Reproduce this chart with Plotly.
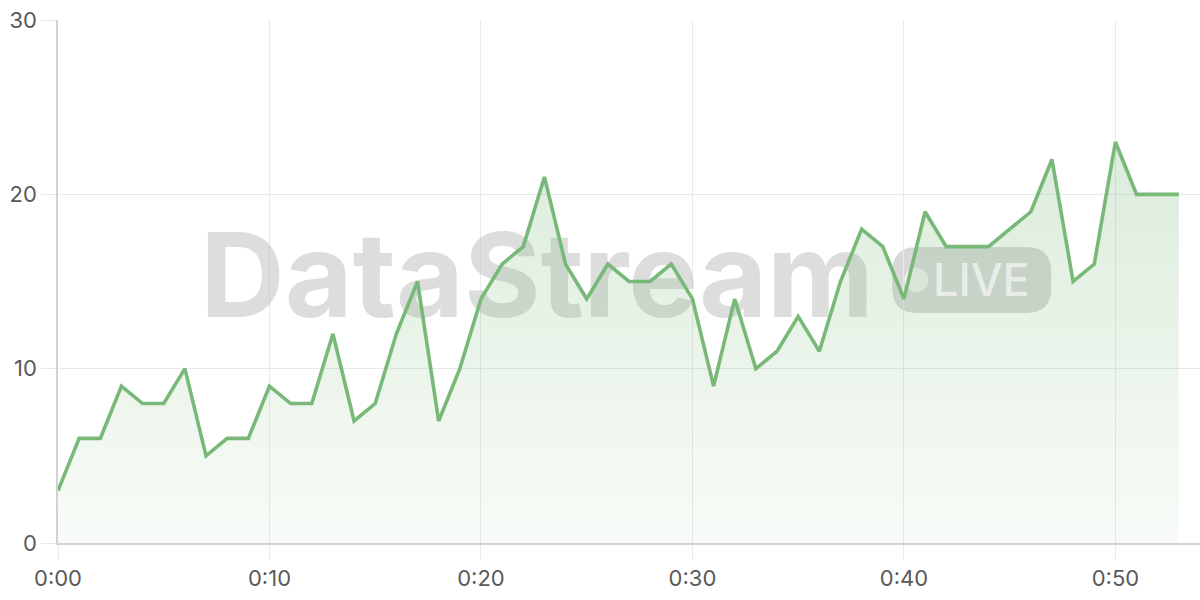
import plotly.graph_objects as go

# one reading per minute, 0:00 .. 0:53
minutes = list(range(54))
values = [3, 6, 6, 9, 8, 8, 10, 5, 6, 6,
          9, 8, 8, 12, 7, 8, 12, 15, 7, 10,
          14, 16, 17, 21, 16, 14, 16, 15, 15, 16,
          14, 9, 14, 10, 11, 13, 11, 15, 18, 17,
          14, 19, 17, 17, 17, 18, 19, 22, 15, 16,
          23, 20, 20, 20]

tick_vals = [0, 10, 20, 30, 40, 50]
tick_text = ["0:00", "0:10", "0:20", "0:30", "0:40", "0:50"]
y_ticks = [0, 10, 20, 30]

X_RANGE = [0, 54]
Y_RANGE = [0, 30]

LINE = "#79b978"
GRID = "#e9e9e9"
AXIS = "#d2d2d2"
FONT = "Inter"

fig = go.Figure()

# watermark text goes first so the series is painted over it
wm_x = X_RANGE[0] + 0.4195 * (X_RANGE[1] - X_RANGE[0])
wm_y = Y_RANGE[0] + 0.488 * (Y_RANGE[1] - Y_RANGE[0])
fig.add_trace(go.Scatter(
    x=[wm_x], y=[wm_y], mode="text", text=["<b>DataStream</b>"],
    textposition="middle center",
    textfont=dict(family=FONT, size=117, color="rgba(175,175,175,0.42)"),
    hoverinfo="skip", showlegend=False,
))

fig.add_trace(go.Scatter(
    x=minutes, y=values, mode="lines",
    line=dict(color=LINE, width=3.6),
    fill="tozeroy",
    fillgradient=dict(
        type="vertical",
        colorscale=[[0, "rgba(121,185,120,0.05)"], [1, "rgba(121,185,120,0.27)"]],
        start=0, stop=23,
    ),
    hoverinfo="skip", showlegend=False,
))

# "LIVE" pill
w, h, r = 79.5, 33, 25
pill = (f"M {-w + r},{-h} L {w - r},{-h} Q {w},{-h} {w},{-h + r} "
        f"L {w},{h - r} Q {w},{h} {w - r},{h} L {-w + r},{h} "
        f"Q {-w},{h} {-w},{h - r} L {-w},{-h + r} Q {-w},{-h} {-w + r},{-h} Z")
fig.add_shape(type="path", path=pill, xref="paper", yref="paper",
              xsizemode="pixel", ysizemode="pixel", xanchor=0.8001, yanchor=0.5029,
              fillcolor="rgba(165,165,165,0.42)", line_width=0, layer="between")
fig.add_shape(type="circle", xref="paper", yref="paper",
              xsizemode="pixel", ysizemode="pixel", xanchor=0.8001, yanchor=0.5029,
              x0=-67.5, x1=-43.5, y0=-12, y1=12,
              fillcolor="rgba(255,255,255,0.6)", line_width=0, layer="between")
fig.add_annotation(text="LIVE", xref="paper", yref="paper", x=0.809, y=0.5029,
                   showarrow=False, xanchor="center", yanchor="middle",
                   font=dict(family=FONT, size=45, weight=500,
                             color="rgba(255,255,255,0.6)"))

fig.update_layout(
    width=1200, height=600,
    margin=dict(l=58, r=0, t=20, b=57, autoexpand=False),
    paper_bgcolor="white", plot_bgcolor="white",
    font=dict(family=FONT, size=22, color="#5a5a5a"),
    showlegend=False,
)
fig.update_xaxes(
    range=X_RANGE, tickvals=tick_vals, ticktext=tick_text,
    showgrid=True, gridcolor=GRID, gridwidth=1,
    showline=True, linecolor=AXIS, linewidth=1.5,
    ticks="outside", ticklen=15, tickcolor=GRID, tickwidth=1,
    zeroline=False, fixedrange=True, automargin=False,
)
fig.update_yaxes(
    range=Y_RANGE, tickvals=y_ticks,
    showgrid=True, gridcolor=GRID, gridwidth=1,
    showline=True, linecolor=AXIS, linewidth=1.5,
    ticks="outside", ticklen=15, tickcolor=GRID, tickwidth=1,
    zeroline=False, fixedrange=True, automargin=False,
)

# drop the default body margin so the figure sits at the page corner
fig.write_html("out.html", config={"displayModeBar": False},
               post_script="document.body.style.margin='0';")
